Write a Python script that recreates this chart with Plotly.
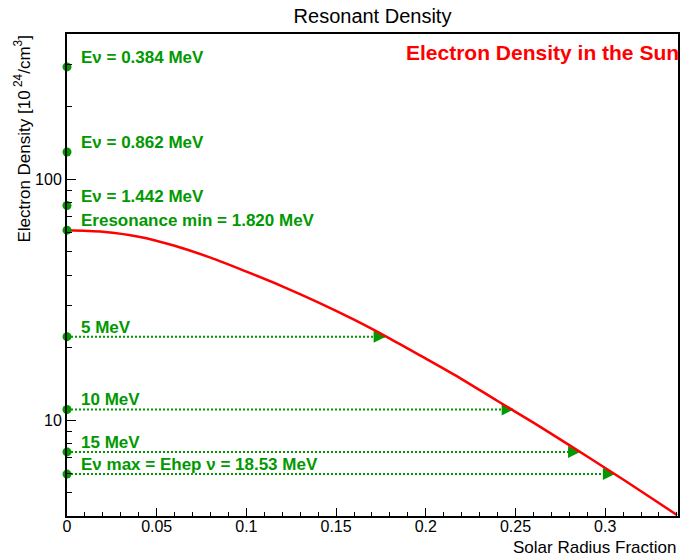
import math
import plotly.graph_objects as go

# Electron density profile of the Sun (units of 10^24 electrons / cm^3)
solar_r = [0.00, 0.02, 0.04, 0.06, 0.08, 0.10, 0.12, 0.14, 0.16,
           0.18, 0.20, 0.22, 0.24, 0.26, 0.28, 0.30, 0.32, 0.34]
solar_ne = [61.4, 60.5, 57.7, 52.9, 47.2, 41.3, 35.9, 30.8, 26.1,
            21.8, 18.0, 14.8, 12.0, 9.76, 7.87, 6.33, 5.07, 4.04]

# Resonance densities for selected neutrino energies
res_labels = ["Eν = 0.384 MeV", "Eν = 0.862 MeV", "Eν = 1.442 MeV",
              "Eresonance min = 1.820 MeV", "5 MeV", "10 MeV", "15 MeV",
              "Eν max = Ehep ν = 18.53 MeV"]
res_density = [292.0, 129.5, 77.7, 61.4, 22.2, 11.07, 7.38, 5.97]
# radius where the resonance density is reached (only for the arrowed ones)
res_radius = [None, None, None, None, 0.1776, 0.249, 0.286, 0.3054]

GREEN = "rgb(0,153,0)"
RED = "rgb(255,0,0)"
FONT = "Liberation Sans, Arial, Helvetica, sans-serif"

fig = go.Figure()

# horizontal dotted arrows from the axis to the density curve
for dens, rad in zip(res_density, res_radius):
    if rad is None:
        continue
    fig.add_trace(go.Scatter(
        x=[0, rad], y=[dens, dens], mode="lines",
        line=dict(color=GREEN, width=2, dash="2px,2px"),
        hoverinfo="skip", showlegend=False))

arrow_r = [r for r in res_radius if r is not None]
arrow_d = [d for d, r in zip(res_density, res_radius) if r is not None]
fig.add_trace(go.Scatter(
    x=arrow_r, y=arrow_d, mode="markers",
    marker=dict(symbol="arrow-right", size=12, color=GREEN,
                line=dict(width=0)),
    cliponaxis=False, showlegend=False, hoverinfo="skip"))

# solar electron density curve
fig.add_trace(go.Scatter(
    x=solar_r, y=solar_ne, mode="lines",
    line=dict(color=RED, width=2.5, shape="spline", smoothing=0.8),
    showlegend=False))

# resonance points on the y axis
fig.add_trace(go.Scatter(
    x=[0] * len(res_density), y=res_density, mode="markers",
    marker=dict(symbol="circle", size=9, color=GREEN),
    cliponaxis=False, showlegend=False))

annotations = []
for lab, dens in zip(res_labels, res_density):
    # annotation positions on a log axis are given in log10 units
    annotations.append(dict(
        x=0, y=math.log10(dens), xref="x", yref="y",
        text="<b>%s</b>" % lab,
        showarrow=False, xanchor="left", yanchor="bottom",
        xshift=12, yshift=-2,
        font=dict(family=FONT, size=17, color=GREEN)))

annotations.append(dict(
    x=1, y=1, xref="paper", yref="paper",
    text="<b>Electron Density in the Sun</b>", showarrow=False,
    xanchor="right", yanchor="top", yshift=-5, xshift=3,
    font=dict(family=FONT, size=21, color=RED)))

annotations.append(dict(
    x=1, y=0, xref="paper", yref="paper", text="Solar Radius Fraction",
    showarrow=False, xanchor="right", yanchor="top", yshift=-20,
    font=dict(family=FONT, size=17, color="black")))

annotations.append(dict(
    x=0, y=1, xref="paper", yref="paper",
    text="Electron Density [10<sup> 24</sup>/cm<sup>3</sup>]",
    showarrow=False, textangle=-90, xanchor="center", yanchor="top",
    xshift=-45, font=dict(family=FONT, size=17, color="black")))

fig.update_layout(
    width=681, height=560,
    margin=dict(l=67, r=1, t=34, b=44),
    paper_bgcolor="white", plot_bgcolor="white",
    title=dict(text="Resonant Density", x=0.5, xref="paper",
               y=1 - 16 / 560, yref="container", yanchor="middle",
               xanchor="center",
               font=dict(family=FONT, size=20, color="black")),
    annotations=annotations,
    font=dict(family=FONT, size=16, color="black"),
)

fig.update_xaxes(
    range=[0, 0.3406], showgrid=False, zeroline=False,
    showline=True, linecolor="black", linewidth=2, mirror=True,
    ticks="inside", ticklen=8, tickwidth=1, tickcolor="black",
    tickvals=[0, 0.05, 0.1, 0.15, 0.2, 0.25, 0.3],
    ticktext=["0", "0.05", "0.1", "0.15", "0.2", "0.25", "0.3"],
    tickfont=dict(family=FONT, size=16), ticklabelstandoff=-5,
    minor=dict(ticks="inside", dtick=0.01, tick0=0, ticklen=4,
               tickcolor="black", showgrid=False),
)

fig.update_yaxes(
    type="log", range=[0.60206, 2.60206], showgrid=False, zeroline=False,
    showline=True, linecolor="black", linewidth=2, mirror=True,
    ticks="inside", ticklen=9, tickwidth=1, tickcolor="black",
    tickvals=[10, 100], ticktext=["10", "100"],
    tickfont=dict(family=FONT, size=16),
    minor=dict(ticks="inside", ticklen=5, tickcolor="black",
               tickvals=[5, 6, 7, 8, 9, 20, 30, 40, 50, 60, 70, 80, 90,
                         200, 300],
               showgrid=False),
)

fig.write_html("out.html")
